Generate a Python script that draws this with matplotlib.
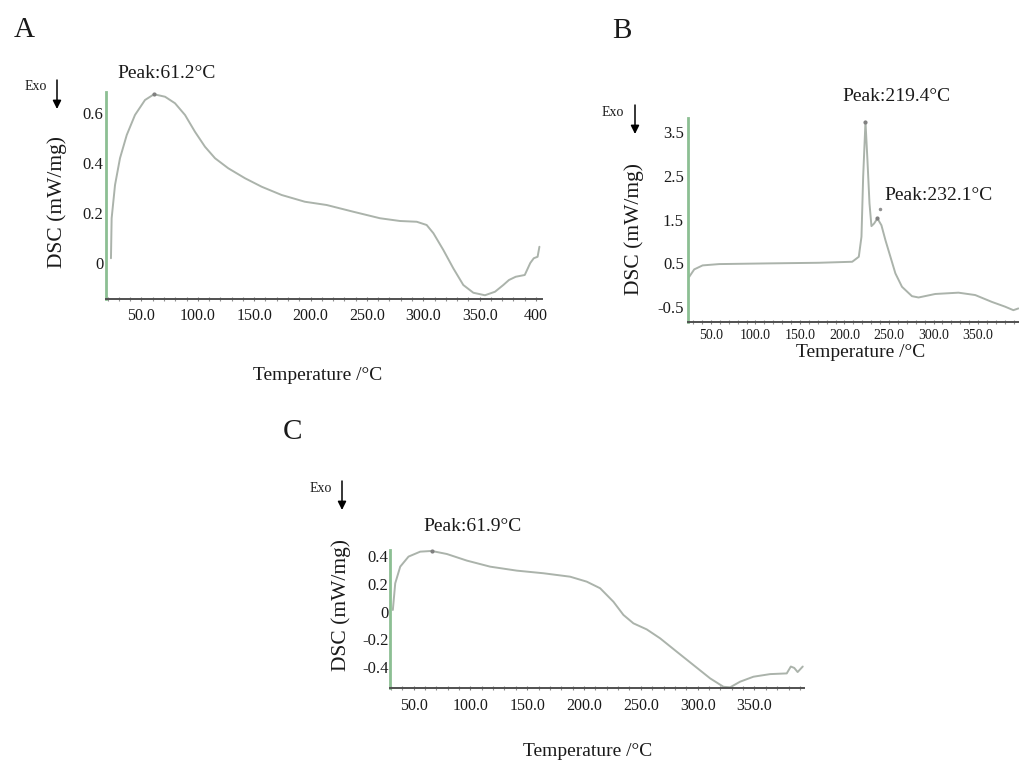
import matplotlib
matplotlib.use("Agg")
import matplotlib.pyplot as plt
from matplotlib.patches import FancyArrowPatch
from matplotlib.ticker import FixedLocator, MultipleLocator

plt.rcParams['font.family'] = ['Liberation Serif', 'DejaVu Serif']

W, H = 1019, 762

# ---------------- data ----------------
# Panel A
a_temp = [23, 23.6, 26.6, 31, 37, 44.3, 53.2, 61.2, 71, 79.8, 88.7, 97.5, 106.4, 115.3, 127, 141.9,
          156.7, 174.4, 195, 214.3, 238, 261.6, 279.4, 294.2, 303, 309, 317.8, 326.6, 335.5, 344.4,
          354.7, 363.6, 371, 376, 382, 390, 394.9, 398, 401.4, 403]
a_dsc = [0.019, 0.179, 0.312, 0.419, 0.512, 0.592, 0.652, 0.675, 0.665, 0.639, 0.592, 0.525, 0.465,
         0.419, 0.379, 0.339, 0.305, 0.272, 0.245, 0.232, 0.205, 0.179, 0.168, 0.165, 0.152, 0.119,
         0.052, -0.021, -0.088, -0.119, -0.129, -0.115, -0.088, -0.068, -0.055, -0.048, 0.0, 0.019,
         0.025, 0.065]
a_peak = (61.2, 0.675)

# Panel B
b_temp = [25.7, 31.3, 40.7, 59.3, 115.3, 171.3, 208.7, 216.1, 219.1, 221, 223.6, 225.8, 228.1, 230.3,
          233.3, 237, 241.5, 246, 251.6, 257.2, 264.6, 275.8, 283.2, 301.9, 328, 346.8, 365.4, 380.4,
          389.7, 395.3]
b_dsc = [0.193, 0.362, 0.453, 0.483, 0.499, 0.513, 0.536, 0.65, 1.107, 2.48, 3.735, 2.86, 1.87, 1.35,
         1.41, 1.527, 1.37, 1.03, 0.65, 0.27, -0.036, -0.25, -0.28, -0.2, -0.17, -0.224, -0.38, -0.49,
         -0.57, -0.53]
b_peaks = [(223.6, 3.735), (237, 1.527)]
b_extra_dot = (240.4, 1.74)

# Panel C
c_temp = [31.8, 33.9, 38.3, 45.6, 55.9, 66, 79.3, 96.9, 117.4, 140.9, 164.3, 187.8, 202.4, 214.2,
          225.9, 234.7, 243.5, 255.2, 267, 281.6, 296.3, 311, 322.7, 328.6, 337.4, 349.1, 363.8, 378.4,
          382, 385, 388, 392.5]
c_dsc = [0.011, 0.205, 0.326, 0.399, 0.435, 0.44, 0.418, 0.37, 0.326, 0.297, 0.278, 0.253, 0.217,
         0.169, 0.071, -0.025, -0.086, -0.13, -0.195, -0.292, -0.389, -0.486, -0.547, -0.551, -0.51,
         -0.474, -0.455, -0.45, -0.40, -0.41, -0.44, -0.40]
c_peak = (66, 0.44)

a_xticks = [50, 100, 150, 200, 250, 300, 350, 400]
a_xlabels = ['50.0', '100.0', '150.0', '200.0', '250.0', '300.0', '350.0', '400']
a_yticks = [0, 0.2, 0.4, 0.6]
a_ylabels = ['0', '0.2', '0.4', '0.6']

b_xticks = [50, 100, 150, 200, 250, 300, 350]
b_xlabels = ['50.0', '100.0', '150.0', '200.0', '250.0', '300.0', '350.0']
b_yticks = [-0.5, 0.5, 1.5, 2.5, 3.5]
b_ylabels = ['-0.5', '0.5', '1.5', '2.5', '3.5']

c_xticks = [50, 100, 150, 200, 250, 300, 350]
c_xlabels = ['50.0', '100.0', '150.0', '200.0', '250.0', '300.0', '350.0']
c_yticks = [-0.4, -0.2, 0, 0.2, 0.4]
c_ylabels = ['-0.4', '-0.2', '0', '0.2', '0.4']

peak_labels_a = ['Peak:61.2°C']
peak_labels_b = ['Peak:219.4°C', 'Peak:232.1°C']
peak_labels_c = ['Peak:61.9°C']

# ---------------- style ----------------
CURVE = '#abb3ab'
SPINE_Y = '#8cbf93'
SPINE_X = '#505050'
TXT = '#1a1a1a'


def px_rect(l, t, r, b):
    return [l / W, 1 - b / H, (r - l) / W, (b - t) / H]


def fx(x):
    return x / W


def fy(y):
    return 1 - y / H


fig = plt.figure(figsize=(W / 100, H / 100), dpi=100)


def make_axes(rect, xlim, ylim, xt, xl, yt, yl, xpad, xsize, ysize, ypad):
    ax = fig.add_axes(rect)
    ax.set_xlim(*xlim)
    ax.set_ylim(*ylim)
    for s in ['top', 'right']:
        ax.spines[s].set_visible(False)
    ax.spines['left'].set_color(SPINE_Y)
    ax.spines['left'].set_linewidth(2.0)
    ax.spines['bottom'].set_color(SPINE_X)
    ax.spines['bottom'].set_linewidth(1.4)
    ax.xaxis.set_major_locator(FixedLocator(xt))
    ax.set_xticklabels(xl)
    ax.yaxis.set_major_locator(FixedLocator(yt))
    ax.set_yticklabels(yl)
    ax.xaxis.set_minor_locator(MultipleLocator(10))
    ax.tick_params(axis='x', which='major', length=2.5, width=0.8, color='#808080',
                   direction='inout', pad=xpad, labelsize=xsize, labelcolor=TXT)
    ax.tick_params(axis='x', which='minor', length=2.5, width=0.8, color='#909090',
                   direction='inout')
    ax.tick_params(axis='y', which='major', length=0, pad=ypad, labelsize=ysize, labelcolor=TXT)
    ax.patch.set_alpha(0)
    return ax


def exo(xt, yt, xa, ya_top, ya_tip):
    fig.text(fx(xt), fy(yt), 'Exo', fontsize=10, ha='center', va='center', color=TXT)
    fig.add_artist(FancyArrowPatch(
        (fx(xa), fy(ya_top)), (fx(xa), fy(ya_tip)), transform=fig.transFigure,
        arrowstyle='-|>,head_length=5,head_width=2.5', color='black', lw=1.1,
        shrinkA=0, shrinkB=0))


def labels(letter, lpos, ypos, xpos):
    fig.text(fx(lpos[0]), fy(lpos[1]), letter, fontsize=21, ha='center', va='center', color=TXT)
    fig.text(fx(ypos[0]), fy(ypos[1]), 'DSC (mW/mg)', fontsize=15.5, rotation=90,
             ha='center', va='center', color=TXT)
    fig.text(fx(xpos[0]), fy(xpos[1]), 'Temperature /°C', fontsize=14,
             ha='center', va='center', color=TXT)


def curve(ax, xs, ys):
    ax.plot(xs, ys, color=CURVE, lw=1.4, clip_on=False,
            solid_joinstyle='round', solid_capstyle='round')


def peak_note(ax, pt, lab, off):
    ax.plot([pt[0]], [pt[1]], 'o', ms=2, color='#808080', clip_on=False)
    ax.annotate(lab, xy=pt, xytext=off, textcoords='offset pixels',
                ha='center', va='center', fontsize=14, color=TXT, annotation_clip=False)


# Panel A
axA = make_axes(px_rect(106, 92, 542, 299), (18.6, 405.3), (-0.144, 0.684),
                a_xticks, a_xlabels, a_yticks, a_ylabels, 5, 11.5, 12, 2)
curve(axA, a_temp, a_dsc)
peak_note(axA, a_peak, peak_labels_a[0], (13, 21))
labels('A', (24, 30), (57, 202), (318, 375))
exo(36, 86, 57, 80, 109)

# Panel B
axB = make_axes(px_rect(688, 118, 1019, 322), (24.3, 396), (-0.84, 3.82),
                b_xticks, b_xlabels, b_yticks, b_ylabels, 4, 10, 12, 3)
curve(axB, b_temp, b_dsc)
for pt, lab, off in zip(b_peaks, peak_labels_b, [(31, 25), (61, 23)]):
    peak_note(axB, pt, lab, off)
axB.plot([b_extra_dot[0]], [b_extra_dot[1]], 'o', ms=1.5, color='#909090', clip_on=False)
labels('B', (622, 31), (634, 229), (861, 353))
exo(613, 112, 635, 105, 134)

# Panel C
axC = make_axes(px_rect(390, 550, 804, 688), (29.3, 393.6), (-0.556, 0.447),
                c_xticks, c_xlabels, c_yticks, c_ylabels, 6, 11.5, 12, 1)
curve(axC, c_temp, c_dsc)
peak_note(axC, c_peak, peak_labels_c[0], (41, 24))
labels('C', (293, 432), (341, 605), (588, 752))
exo(321, 488, 342, 481, 510)

fig.savefig('out.png', dpi=100, facecolor='white')
